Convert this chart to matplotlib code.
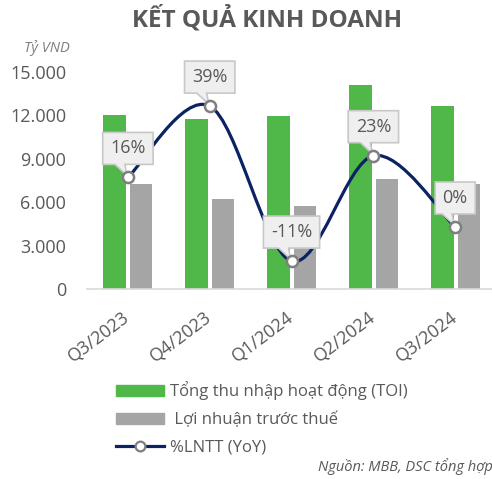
import matplotlib
matplotlib.use("Agg")
import matplotlib.pyplot as plt
import matplotlib.transforms as mtransforms
from matplotlib.path import Path
from matplotlib.patches import PathPatch, Polygon, Patch
from matplotlib.lines import Line2D
from matplotlib.ticker import FuncFormatter, MultipleLocator

plt.rcParams['font.family'] = ['Open Sans', 'DejaVu Sans']

# Data (Tỷ VND, %)
quarters = ['Q3/2023', 'Q4/2023', 'Q1/2024', 'Q2/2024', 'Q3/2024']
toi = [12030, 11730, 11980, 14100, 12670]
lntt = [7260, 6240, 5760, 7630, 7280]
lntt_yoy = [16, 39, -11, 23, 0]
legend_labels = ['Tổng thu nhập hoạt động (TOI)', ' Lợi nhuận trước thuế', '%LNTT (YoY)']

GREEN = '#50B848'
GRAY = '#A5A5A5'
NAVY = '#0B2265'
TEXT = '#595959'
DPI = 100


def smooth_path(xs, ys):
    """Excel-like smoothed line: Catmull-Rom segments as cubic Beziers."""
    pts = list(zip(xs, ys))
    n = len(pts)
    verts = [pts[0]]
    codes = [Path.MOVETO]
    for i in range(n - 1):
        p0 = pts[i - 1] if i > 0 else pts[i]
        p1 = pts[i]
        p2 = pts[i + 1]
        p3 = pts[i + 2] if i + 2 < n else pts[i + 1]
        c1 = (p1[0] + (p2[0] - p0[0]) / 6, p1[1] + (p2[1] - p0[1]) / 6)
        c2 = (p2[0] - (p3[0] - p1[0]) / 6, p2[1] - (p3[1] - p1[1]) / 6)
        verts += [c1, c2, p2]
        codes += [Path.CURVE4] * 3
    return Path(verts, codes)


fig = plt.figure(figsize=(4.92, 4.79), dpi=DPI)
ax = fig.add_axes([87 / 492, 1 - 289 / 479, 1 - 87 / 492, (289 - 72) / 479])

x = list(range(len(quarters)))
ax.bar([i - 0.16 for i in x], toi, width=0.28, color=GREEN, zorder=2)
ax.bar([i + 0.165 for i in x], lntt, width=0.27, color=GRAY, zorder=2)

ax.set_xlim(-0.5, 4.45)
ax.set_ylim(0, 15000)
ax.yaxis.set_major_locator(MultipleLocator(3000))
ax.yaxis.set_major_formatter(FuncFormatter(lambda v, p: f"{int(v):,}".replace(",", ".")))
ax.tick_params(axis='y', length=0, pad=15, labelsize=13, labelcolor=TEXT)
ax.tick_params(axis='x', length=0, pad=19, labelsize=13, labelcolor=TEXT)
ax.set_xticks(x)
ax.set_xticklabels(quarters, rotation=37, ha='right', va='center', rotation_mode='anchor')
for s in ['top', 'right', 'left']:
    ax.spines[s].set_visible(False)
ax.spines['bottom'].set_color('#D9D9D9')
ax.spines['bottom'].set_linewidth(1.2)

# Secondary axis for % growth
ax2 = ax.twinx()
ax2.set_ylim(-20, 50)
ax2.axis('off')
ax2.add_patch(PathPatch(smooth_path(x, lntt_yoy), fc='none', ec=NAVY, lw=2.3,
                        zorder=3, clip_on=False, capstyle='round'))

renderer = fig.canvas.get_renderer()
for xi, v in zip(x, lntt_yoy):
    t = ax2.annotate(f"{v}%", (xi, v), xytext=(0, 29), textcoords='offset pixels',
                     ha='center', va='center', fontsize=13, color=TEXT, zorder=6)
    half = t.get_window_extent(renderer).width / 2 + 7.5
    trans = fig.dpi_scale_trans + mtransforms.ScaledTranslation(xi, v, ax2.transData)
    box = [(-half, 13), (-half, 45), (half, 45), (half, 13), (-3, 13), (-1, 2), (-13, 13)]
    ax2.add_patch(Polygon([(px / DPI, py / DPI) for px, py in box], closed=True,
                          transform=trans, fc='#EFEFEF', ec='#C8C8C8', lw=1.2,
                          zorder=5, clip_on=False, joinstyle='miter'))

ax2.plot(x, lntt_yoy, linestyle='none', marker='o', ms=8, mfc='white',
         mec='#7F7F7F', mew=1.8, zorder=7, clip_on=False)

# Texts
fig.text(267 / 492, 1 - 19 / 479, 'KẾT QUẢ KINH DOANH', ha='center', va='center',
         fontsize=17.5, fontweight='bold', color=TEXT)
fig.text(47 / 492, 1 - 48 / 479, 'Tỷ VND', ha='center', va='center',
         fontsize=10.5, style='italic', color='#7F7F7F')
fig.text(493 / 492, 1 - 467 / 479, 'Nguồn: MBB, DSC tổng hợp', ha='right', va='center',
         fontsize=10.5, style='italic', color=TEXT)

handles = [Patch(color=GREEN), Patch(color=GRAY),
           Line2D([], [], color=NAVY, lw=2.3, marker='o', ms=7, mfc='white',
                  mec='#7F7F7F', mew=1.6)]
fig.legend(handles, legend_labels, loc='upper left',
           bbox_to_anchor=(116 / 492, 1 - 381 / 479), frameon=False, fontsize=12,
           handlelength=2.88, handleheight=0.65, handletextpad=0.36, labelspacing=0.7,
           borderpad=0, borderaxespad=0, labelcolor=TEXT)

fig.savefig('out.png', dpi=DPI)
